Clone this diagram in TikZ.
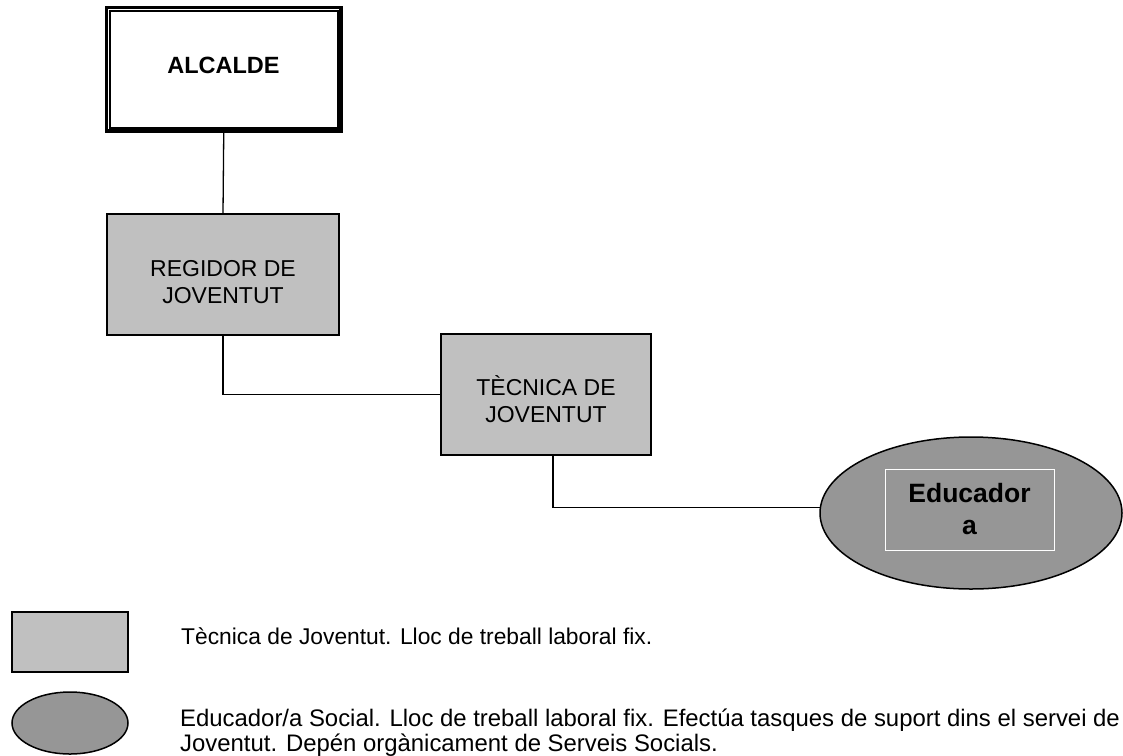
\documentclass[tikz,border=0pt]{standalone}
\usepackage{fontspec}
\setmainfont{Liberation Sans}
\usetikzlibrary{shapes.geometric}
\definecolor{boxgray}{HTML}{C0C0C0}
\definecolor{ellgray}{HTML}{969696}
\begin{document}
\begin{tikzpicture}[x=1pt,y=-1pt,
  orgbox/.style={draw=black, line width=1.5pt, fill=boxgray, inner sep=0pt},
  orgell/.style={ellipse, draw=black, line width=1.5pt, fill=ellgray, inner sep=0pt},
  conn/.style={draw=black, line width=1.3pt},
  boxtxt/.style={font=\fontsize{23}{27.5}\selectfont, align=center, inner sep=0pt},
  legtxt/.style={font=\fontsize{22.8}{25}\selectfont, align=left, inner sep=0pt}]
\useasboundingbox (0,0) rectangle (1123,755);

% ALCALDE
\node[draw=black, line width=3.5pt, fill=white, minimum width=234.5pt, minimum height=123.5pt,
      inner sep=0pt] (alc) at (223.75,69.25) {};
\draw[line width=2.3pt] ([shift={(5,5)}]alc.north west) rectangle ([shift={(-5,-5)}]alc.south east);
\node[inner sep=0pt, font=\fontsize{23.5}{28}\selectfont\bfseries] (alct) at (223.5,65) {ALCALDE};

% REGIDOR
\node[orgbox, minimum width=232pt, minimum height=121pt] (reg) at (223,274.5) {};
\node[boxtxt] (regt) at (223,282) {REGIDOR DE\\JOVENTUT};

% TECNICA
\node[orgbox, minimum width=210pt, minimum height=121pt] (tec) at (546,394.5) {};
\node[boxtxt] (tect) at (546,399) {TÈCNICA DE\\JOVENTUT};

% Educadora
\node[orgell, minimum width=302pt, minimum height=152pt] (edu) at (971,513) {};
\node[draw=white, line width=1pt, minimum width=169pt, minimum height=81pt, inner sep=0pt,
      font=\fontsize{26.5}{32}\selectfont\bfseries, align=center] (edut) at (969.5,509.5) {Educador\\a};

% connectors
\draw[conn] (alc.south) -- (reg.north);
\draw[conn] (reg.south) |- (tec.west);
\draw[conn] ([xshift=7pt]tec.south) |- (edu.178);

% legend
\node[orgbox, minimum width=116pt, minimum height=60pt] (legbox) at (70,642) {};
\node[orgell, minimum width=116pt, minimum height=62pt] (legell) at (70,723) {};
\node[legtxt, anchor=base west] (legt1) at (181,644) {Tècnica de Joventut. Lloc de treball laboral fix.};
\node[legtxt, font=\fontsize{23.9}{25}\selectfont, anchor=base west] (legt2) at (180,751) {Educador/a Social. Lloc de treball laboral fix. Efectúa tasques de suport dins el servei de\\Joventut. Depén orgànicament de Serveis Socials.};
\end{tikzpicture}
\end{document}
